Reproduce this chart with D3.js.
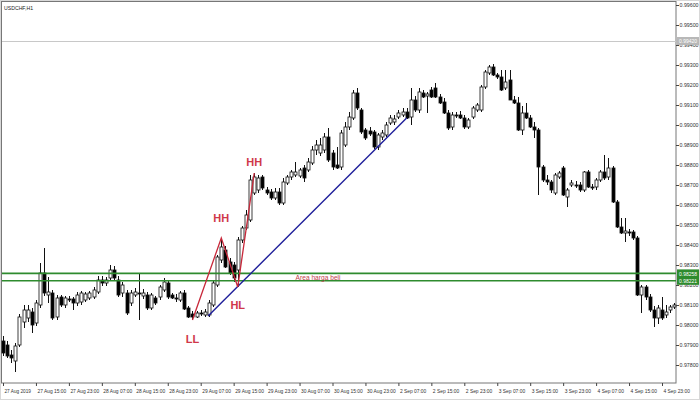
<!DOCTYPE html>
<html>
<head>
<meta charset="utf-8">
<script src="https://cdn.jsdelivr.net/npm/d3@7"></script>
<style>
body { margin: 0; background: #fff; }
svg { display: block; font-family: "Liberation Sans", Arial, sans-serif; }
</style>
</head>
<body>
<div id="chart"></div>
<script>
const symbol = "USDCHF,H1"

// hourly bars, 27 Aug 07:00 .. 5 Sep 02:00
const opens = [0.97920,0.97900,0.97850,0.97820,0.97900,0.98015,0.98035,0.98065,0.98010,0.98100,
  0.98260,0.98150,0.98160,0.98040,0.98140,0.98100,0.98130,0.98130,0.98110,0.98115,
  0.98125,0.98135,0.98140,0.98165,0.98225,0.98210,0.98235,0.98275,0.98225,0.98160,
  0.98160,0.98110,0.98150,0.98160,0.98145,0.98150,0.98085,0.98135,0.98140,0.98175,
  0.98210,0.98150,0.98135,0.98125,0.98160,0.98085,0.98055,0.98040,0.98060,0.98050,
  0.98050,0.98100,0.98200,0.98325,0.98375,0.98315,0.98300,0.98275,0.98425,0.98485,
  0.98525,0.98660,0.98675,0.98740,0.98675,0.98665,0.98635,0.98665,0.98610,0.98710,
  0.98740,0.98750,0.98745,0.98785,0.98775,0.98810,0.98875,0.98860,0.98875,0.98940,
  0.98860,0.98800,0.98790,0.98900,0.98990,0.99035,0.99160,0.99075,0.98975,0.98970,
  0.98965,0.98890,0.98940,0.98950,0.99010,0.99015,0.99040,0.99050,0.99065,0.99040,
  0.99125,0.99075,0.99160,0.99145,0.99175,0.99185,0.99140,0.99115,0.99060,0.98990,
  0.99050,0.99050,0.99035,0.98990,0.99040,0.99075,0.99075,0.99190,0.99260,0.99290,
  0.99250,0.99240,0.99185,0.99225,0.99125,0.99110,0.98975,0.99060,0.99035,0.98990,
  0.98975,0.98790,0.98725,0.98715,0.98660,0.98740,0.98785,0.98640,0.98700,0.98700,
  0.98700,0.98675,0.98765,0.98690,0.98690,0.98725,0.98765,0.98740,0.98785,0.98615,
  0.98490,0.98460,0.98465,0.98465,0.98435,0.98150,0.98190,0.98140,0.98075,0.98035,
  0.98075,0.98050,0.98075,0.98090]
const highs = [0.97945,0.97920,0.97875,0.97910,0.98055,0.98100,0.98100,0.98085,0.98125,0.98310,
  0.98385,0.98240,0.98175,0.98150,0.98150,0.98145,0.98145,0.98140,0.98165,0.98170,
  0.98165,0.98170,0.98190,0.98245,0.98245,0.98240,0.98300,0.98295,0.98245,0.98215,
  0.98175,0.98175,0.98185,0.98260,0.98180,0.98165,0.98160,0.98145,0.98200,0.98235,
  0.98220,0.98160,0.98155,0.98170,0.98175,0.98095,0.98070,0.98070,0.98075,0.98080,
  0.98125,0.98220,0.98350,0.98435,0.98395,0.98335,0.98315,0.98440,0.98495,0.98575,
  0.98750,0.98760,0.98750,0.98750,0.98690,0.98680,0.98685,0.98685,0.98735,0.98750,
  0.98775,0.98815,0.98785,0.98800,0.98835,0.98895,0.98925,0.98935,0.98960,0.98985,
  0.98875,0.98890,0.98975,0.99015,0.99065,0.99175,0.99185,0.99085,0.98985,0.98990,
  0.98975,0.98960,0.98975,0.99015,0.99050,0.99050,0.99075,0.99085,0.99085,0.99185,
  0.99145,0.99185,0.99175,0.99165,0.99190,0.99210,0.99155,0.99135,0.99075,0.99065,
  0.99065,0.99070,0.99050,0.99035,0.99095,0.99110,0.99200,0.99275,0.99300,0.99305,
  0.99260,0.99275,0.99275,0.99275,0.99145,0.99140,0.99095,0.99110,0.99050,0.99015,
  0.98985,0.98800,0.98750,0.98725,0.98760,0.98770,0.98795,0.98685,0.98725,0.98720,
  0.98715,0.98770,0.98775,0.98705,0.98735,0.98775,0.98850,0.98835,0.98795,0.98625,
  0.98535,0.98535,0.98480,0.98475,0.98445,0.98200,0.98200,0.98155,0.98095,0.98100,
  0.98140,0.98100,0.98100,0.98110]
const lows = [0.97845,0.97835,0.97810,0.97765,0.97890,0.97985,0.98015,0.97960,0.97995,0.98085,
  0.98145,0.98110,0.98025,0.98025,0.98090,0.98085,0.98115,0.98075,0.98095,0.98100,
  0.98115,0.98125,0.98130,0.98155,0.98195,0.98195,0.98225,0.98225,0.98140,0.98140,
  0.98050,0.98095,0.98140,0.98025,0.98130,0.98075,0.98075,0.98100,0.98125,0.98165,
  0.98130,0.98130,0.98115,0.98115,0.98075,0.98035,0.98025,0.98035,0.98045,0.98040,
  0.98040,0.98090,0.98190,0.98310,0.98285,0.98250,0.98215,0.98190,0.98410,0.98475,
  0.98515,0.98650,0.98660,0.98675,0.98650,0.98625,0.98625,0.98600,0.98600,0.98700,
  0.98725,0.98740,0.98735,0.98715,0.98765,0.98800,0.98850,0.98845,0.98860,0.98815,
  0.98775,0.98780,0.98775,0.98890,0.98975,0.99025,0.99075,0.98955,0.98925,0.98945,
  0.98880,0.98875,0.98925,0.98940,0.99000,0.99000,0.99030,0.99040,0.99030,0.99000,
  0.99065,0.99060,0.99135,0.99060,0.99135,0.99135,0.99105,0.99055,0.98975,0.98975,
  0.99035,0.99030,0.98980,0.98980,0.99030,0.99065,0.99065,0.99180,0.99250,0.99245,
  0.99230,0.99170,0.99175,0.99125,0.99105,0.98970,0.98950,0.99030,0.98985,0.98935,
  0.98650,0.98715,0.98700,0.98660,0.98650,0.98730,0.98645,0.98590,0.98690,0.98685,
  0.98665,0.98665,0.98685,0.98675,0.98675,0.98715,0.98725,0.98725,0.98610,0.98485,
  0.98455,0.98415,0.98445,0.98425,0.98145,0.98060,0.98125,0.98065,0.97990,0.98005,
  0.98025,0.98035,0.98060,0.98080]
const closes = [0.97860,0.97845,0.97835,0.97895,0.98040,0.98075,0.98075,0.98000,0.98110,0.98260,
  0.98160,0.98165,0.98035,0.98135,0.98100,0.98135,0.98125,0.98110,0.98150,0.98160,
  0.98155,0.98160,0.98175,0.98225,0.98210,0.98225,0.98275,0.98235,0.98150,0.98200,
  0.98060,0.98160,0.98165,0.98155,0.98160,0.98085,0.98150,0.98110,0.98190,0.98215,
  0.98140,0.98135,0.98130,0.98160,0.98080,0.98040,0.98040,0.98060,0.98055,0.98065,
  0.98110,0.98210,0.98340,0.98390,0.98290,0.98260,0.98235,0.98425,0.98485,0.98550,
  0.98725,0.98740,0.98735,0.98685,0.98660,0.98635,0.98665,0.98610,0.98715,0.98740,
  0.98765,0.98765,0.98775,0.98735,0.98815,0.98875,0.98900,0.98900,0.98940,0.98825,
  0.98790,0.98785,0.98960,0.98990,0.99040,0.99160,0.99085,0.98965,0.98935,0.98955,
  0.98890,0.98950,0.98960,0.99000,0.99035,0.99030,0.99060,0.99065,0.99035,0.99125,
  0.99075,0.99165,0.99140,0.99155,0.99140,0.99140,0.99110,0.99060,0.98985,0.99050,
  0.99045,0.99035,0.98990,0.99025,0.99085,0.99100,0.99190,0.99265,0.99290,0.99250,
  0.99240,0.99175,0.99215,0.99125,0.99110,0.98975,0.99060,0.99035,0.98990,0.98975,
  0.98790,0.98725,0.98715,0.98675,0.98750,0.98760,0.98650,0.98675,0.98710,0.98695,
  0.98675,0.98765,0.98690,0.98685,0.98725,0.98765,0.98735,0.98785,0.98615,0.98490,
  0.98460,0.98470,0.98460,0.98435,0.98150,0.98190,0.98140,0.98075,0.98035,0.98085,
  0.98035,0.98065,0.98090,0.98100]

const timeIdx = [0, 8, 16, 24, 32, 40, 48, 56, 64, 72, 80, 88, 96, 104, 112, 120, 128, 136, 144, 152, 160]
const timeLabels = ["27 Aug 2019", "27 Aug 15:00", "27 Aug 23:00", "28 Aug 07:00", "28 Aug 15:00",
  "28 Aug 23:00", "29 Aug 07:00", "29 Aug 15:00", "29 Aug 23:00", "30 Aug 07:00", "30 Aug 15:00",
  "30 Aug 23:00", "2 Sep 07:00", "2 Sep 15:00", "2 Sep 23:00", "3 Sep 07:00", "3 Sep 15:00",
  "3 Sep 23:00", "4 Sep 07:00", "4 Sep 15:00", "4 Sep 23:00"]
const priceTicks = [0.978, 0.979, 0.980, 0.981, 0.982, 0.983, 0.984, 0.985, 0.986, 0.987,
  0.988, 0.989, 0.990, 0.991, 0.992, 0.993, 0.994, 0.995, 0.996]

// drawn objects
const grayLevel = 0.99420
const zoneLevels = [0.98258, 0.98221]
const zoneLabel = "Area harga beli"
const zigzag = [[46, 0.98025], [53, 0.98435], [57, 0.98190], [61, 0.98760]]
const swingNames = ["LL", "HH", "HL", "HH"]
const swingLabelPrices = [0.97930, 0.98535, 0.98100, 0.98815]
const trendLine = [[49.8, 0.98045], [98, 0.99035]]

const width = 700
const height = 400
const plotRight = 676
const plotBottom = 383

const bars = opens.map((o, i) => ({ i, o, h: highs[i], l: lows[i], c: closes[i] }))

const x = d3.scaleLinear().domain([0, 160]).range([3, 662])
const y = d3.scaleLinear().domain([0.978, 0.996]).range([365, 5])

const svg = d3.select("#chart").append("svg")
    .attr("width", width)
    .attr("height", height)

svg.append("rect")
    .attr("x", 0.5).attr("y", 0.5)
    .attr("width", width - 1).attr("height", height - 1)
    .attr("fill", "#fff").attr("stroke", "#d8d8d8")

svg.append("rect")
    .attr("x", 1.5).attr("y", 1.5)
    .attr("width", plotRight - 1.5).attr("height", plotBottom - 1.5)
    .attr("fill", "none").attr("stroke", "#777")

// gray horizontal line
svg.append("line")
    .attr("x1", 2).attr("x2", plotRight)
    .attr("y1", Math.round(y(grayLevel)) + 0.5).attr("y2", Math.round(y(grayLevel)) + 0.5)
    .attr("stroke", "#c8c8c8")

svg.append("text")
    .attr("x", 4).attr("y", 10)
    .attr("font-size", 6)
    .attr("textLength", 29).attr("lengthAdjust", "spacingAndGlyphs")
    .attr("fill", "#222")
    .text(symbol)

// candles
const g = svg.append("g")
g.selectAll("line.wick")
    .data(bars)
    .enter()
    .append("line")
    .attr("class", "wick")
    .attr("x1", d => Math.round(x(d.i)) + 0.5)
    .attr("x2", d => Math.round(x(d.i)) + 0.5)
    .attr("y1", d => y(d.h))
    .attr("y2", d => y(d.l))
    .attr("stroke", "#111")
    .attr("stroke-width", 1)

g.selectAll("rect.body")
    .data(bars)
    .enter()
    .append("rect")
    .attr("class", "body")
    .attr("x", d => Math.round(x(d.i)) - 1)
    .attr("y", d => y(Math.max(d.o, d.c)))
    .attr("width", 3)
    .attr("height", d => Math.max(1, Math.abs(y(d.o) - y(d.c))))
    .attr("fill", d => d.c < d.o ? "#000" : "#fff")
    .attr("stroke", "#111")
    .attr("stroke-width", 0.8)

// buy zone
svg.selectAll("line.zone")
    .data(zoneLevels)
    .enter()
    .append("line")
    .attr("class", "zone")
    .attr("x1", 2).attr("x2", plotRight)
    .attr("y1", d => y(d)).attr("y2", d => y(d))
    .attr("stroke", "#2e8b2e")
    .attr("stroke-width", 1.6)

svg.append("text")
    .attr("x", x(76.5)).attr("y", y(d3.mean(zoneLevels)) + 2.5)
    .attr("text-anchor", "middle")
    .attr("font-size", 7.5)
    .attr("textLength", 45).attr("lengthAdjust", "spacingAndGlyphs")
    .attr("fill", "#c0404a")
    .text(zoneLabel)

// trend line
svg.append("path")
    .datum(trendLine)
    .attr("d", d3.line().x(d => x(d[0])).y(d => y(d[1])))
    .attr("fill", "none")
    .attr("stroke", "#1f1f9a")
    .attr("stroke-width", 1.4)

// swing zigzag
svg.append("path")
    .datum(zigzag)
    .attr("d", d3.line().x(d => x(d[0])).y(d => y(d[1])))
    .attr("fill", "none")
    .attr("stroke", "#c8283a")
    .attr("stroke-width", 1.3)

svg.selectAll("text.swing")
    .data(zigzag)
    .enter()
    .append("text")
    .attr("class", "swing")
    .attr("x", d => x(d[0]))
    .attr("y", (d, i) => y(swingLabelPrices[i]) + 4)
    .attr("text-anchor", "middle")
    .attr("font-size", 11)
    .attr("font-weight", "bold")
    .attr("fill", "#d0384a")
    .text((d, i) => swingNames[i])

// axes
const xAxis = svg.append("g")
    .attr("transform", `translate(0,${plotBottom})`)
    .call(d3.axisBottom(x).tickValues(timeIdx).tickFormat((d, i) => timeLabels[i]).tickSize(3).tickSizeOuter(0))
xAxis.select(".domain").remove()
xAxis.selectAll("line").attr("stroke", "#444")
xAxis.selectAll("text")
    .attr("text-anchor", "start")
    .attr("dx", 1)
    .attr("dy", 4)
    .attr("font-size", 5.5)
    .attr("font-family", "Liberation Sans, Arial, sans-serif")
    .attr("fill", "#333")
    .attr("textLength", d => timeLabels[timeIdx.indexOf(d)].length * 2.4)
    .attr("lengthAdjust", "spacingAndGlyphs")

const yAxis = svg.append("g")
    .attr("transform", `translate(${plotRight},0)`)
    .call(d3.axisRight(y).tickValues(priceTicks).tickFormat(d3.format(".5f")).tickSize(3).tickSizeOuter(0))
yAxis.select(".domain").remove()
yAxis.selectAll("line").attr("stroke", "#444")
yAxis.selectAll("text")
    .attr("x", 3.5)
    .attr("font-size", 5.6)
    .attr("font-family", "Liberation Sans, Arial, sans-serif")
    .attr("fill", "#333")
    .attr("textLength", 19)
    .attr("lengthAdjust", "spacingAndGlyphs")

// price tags on the right
function priceTag(p, fill) {
    const t = svg.append("g").attr("transform", `translate(${plotRight + 1},${y(p)})`)
    t.append("rect")
        .attr("x", 0).attr("y", -4)
        .attr("width", 22).attr("height", 8)
        .attr("fill", fill)
    t.append("text")
        .attr("x", 2).attr("y", 2.2)
        .attr("font-size", 5.6)
        .attr("textLength", 18).attr("lengthAdjust", "spacingAndGlyphs")
        .attr("fill", "#fff")
        .text(d3.format(".5f")(p))
}
priceTag(grayLevel, "#b8b8b8")
zoneLevels.forEach(p => priceTag(p, "#2e8b2e"))
</script>
</body>
</html>
